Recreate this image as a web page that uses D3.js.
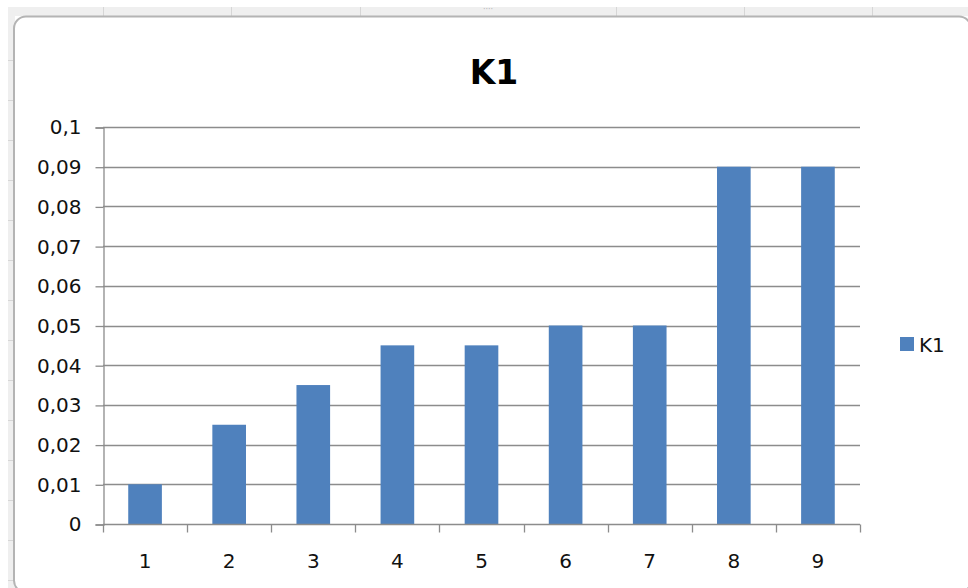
<!DOCTYPE html>
<html>
<head>
<meta charset="utf-8">
<script src="https://cdn.jsdelivr.net/npm/d3@7"></script>
<style>
  html, body { margin: 0; padding: 0; background: #fff; }
  svg { display: block; }
</style>
</head>
<body>
<svg id="chart" width="968" height="588"></svg>
<script>
// Data
const categories = ["1", "2", "3", "4", "5", "6", "7", "8", "9"];
const values = [0.01, 0.025, 0.035, 0.045, 0.045, 0.05, 0.05, 0.09, 0.09];
const yTicks = [0, 0.01, 0.02, 0.03, 0.04, 0.05, 0.06, 0.07, 0.08, 0.09, 0.1];
const yTickLabels = ["0", "0,01", "0,02", "0,03", "0,04", "0,05", "0,06", "0,07", "0,08", "0,09", "0,1"];
const seriesName = "K1";
const chartTitle = "K1";
const sheetColumnEdges = [103, 231, 360, 616, 744, 872];

const W = 968, H = 588;
const svg = d3.select("#chart");
const FONT = "'DejaVu Sans', Verdana, sans-serif";
const BAR = "#4f81bd";
const GRID = "#8c8c8c";

// Worksheet behind the chart object
svg.append("rect").attr("x", 8).attr("y", 7).attr("width", W - 8).attr("height", 9).attr("fill", "#efefef");
svg.append("rect").attr("x", 8).attr("y", 7).attr("width", 7).attr("height", H - 7).attr("fill", "#efefef");
svg.selectAll("line.col").data(sheetColumnEdges).enter().append("line")
  .attr("x1", d => d + 0.5).attr("x2", d => d + 0.5).attr("y1", 7).attr("y2", 16)
  .attr("stroke", "#d6d6d6");
svg.selectAll("line.row").data(d3.range(60, H, 40)).enter().append("line")
  .attr("x1", 8).attr("x2", 14).attr("y1", d => d + 0.5).attr("y2", d => d + 0.5)
  .attr("stroke", "#d6d6d6");
svg.append("text").attr("x", 488).attr("y", 12).attr("text-anchor", "middle")
  .attr("font-family", FONT).attr("font-size", 8).attr("fill", "#b5b5b5").text("····");

// Chart frame
svg.append("rect").attr("x", 14).attr("y", 16.5).attr("width", W - 11).attr("height", H - 12)
  .attr("rx", 12).attr("ry", 12).attr("fill", "#fff").attr("stroke", "#b4b4b4").attr("stroke-width", 2);

// Plot area
const plot = { left: 103, right: 860, top: 127, bottom: 524 };
const x = d3.scaleBand().domain(categories).range([plot.left, plot.right]).paddingInner(0.6).paddingOuter(0.3);
const xb = d3.scaleBand().domain(categories).range([plot.left, plot.right]);
const y = d3.scaleLinear().domain([0, 0.1]).range([plot.bottom, plot.top]);

// Gridlines
svg.append("g").selectAll("line").data(yTicks.slice(1)).enter().append("line")
  .attr("x1", plot.left).attr("x2", plot.right)
  .attr("y1", d => Math.round(y(d)) + 0.5).attr("y2", d => Math.round(y(d)) + 0.5)
  .attr("stroke", GRID).attr("stroke-width", 1.3);

// Bars
svg.append("g").selectAll("rect").data(values).enter().append("rect")
  .attr("x", (d, i) => x(categories[i]))
  .attr("width", x.bandwidth())
  .attr("y", d => y(d))
  .attr("height", d => y(0) - y(d))
  .attr("fill", BAR);

// Y axis
const yAxis = d3.axisLeft(y).tickValues(yTicks).tickSize(8).tickPadding(14)
  .tickFormat((d, i) => yTickLabels[i]);
const gy = svg.append("g").attr("transform", `translate(${plot.left + 0.5},0.5)`).call(yAxis);
gy.select(".domain").attr("stroke", GRID).attr("stroke-width", 1.3);
gy.selectAll(".tick line").attr("stroke", GRID).attr("stroke-width", 1.3);
gy.selectAll(".tick text").attr("font-family", FONT).attr("font-size", 20).attr("fill", "#111");

// X axis
const xAxis = d3.axisBottom(xb).tickSize(0).tickPadding(29);
const gx = svg.append("g").attr("transform", `translate(0,${plot.bottom + 0.5})`).call(xAxis);
gx.select(".domain").remove();
gx.append("line").attr("x1", plot.left).attr("x2", plot.right).attr("stroke", GRID).attr("stroke-width", 1.3);
gx.selectAll(".tick text").attr("font-family", FONT).attr("font-size", 20).attr("fill", "#111");
const edges = categories.map(c => xb(c)).concat([xb(categories[categories.length - 1]) + xb.bandwidth()]);
gx.selectAll("line.edge").data(edges).enter().append("line")
  .attr("x1", d => Math.round(d) + 0.5).attr("x2", d => Math.round(d) + 0.5)
  .attr("y1", 0).attr("y2", 8).attr("stroke", GRID).attr("stroke-width", 1.3);

// Title
svg.append("text").attr("x", 494).attr("y", 84).attr("text-anchor", "middle")
  .attr("font-family", FONT).attr("font-weight", "bold").attr("font-size", 33).attr("fill", "#000")
  .text(chartTitle);

// Legend
const lg = svg.append("g").attr("transform", "translate(900,337)");
lg.append("rect").attr("width", 14).attr("height", 14).attr("fill", BAR);
lg.append("text").attr("x", 19).attr("y", 15).attr("font-family", FONT).attr("font-size", 20).attr("fill", "#111").text(seriesName);
</script>
</body>
</html>
